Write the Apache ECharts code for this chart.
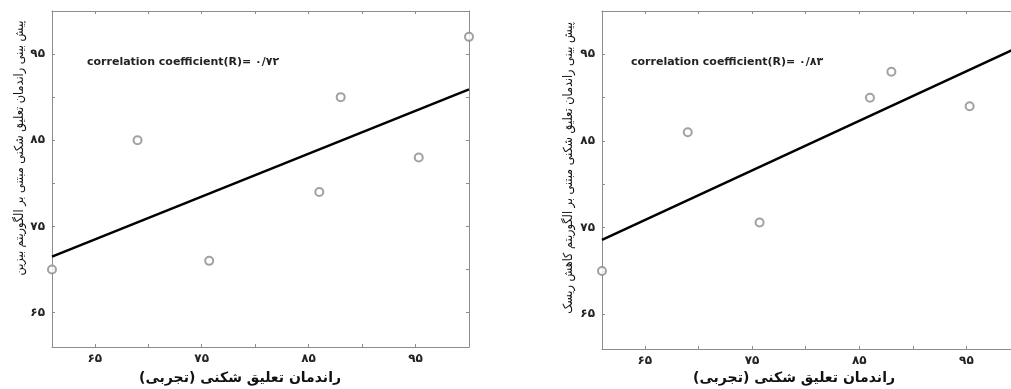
<!DOCTYPE html>
<html>
<head>
<meta charset="utf-8">
<script src="https://cdn.jsdelivr.net/npm/echarts@6/dist/echarts.min.js"></script>
<style>
html,body{margin:0;padding:0;background:#fff;}
#chart{width:1011px;height:389px;}
</style>
</head>
<body>
<div id="chart"></div>
<script>
// ---- data ----
const leftPoints = [[61,70],[69,85],[75.7,71],[86,79],[88,90],[95.3,83],[100,97]];
const leftFit = [[61,71.5],[100,90.9]];
const rightPoints = [[61,70],[69,86],[75.7,75.6],[86,90],[88,93],[95.3,89]];
const rightFit = [[61,73.6],[100,95.9]];
const axisMin = 61;
const axisMax = 100;
const labelTicks = [65,75,85,95];
const minorTicks = [65,70,75,80,85,90,95];
const leftR = 'correlation coefficient(R)= ۰/۷۲';
const rightR = 'correlation coefficient(R)= ۰/۸۳';
const xTitle = 'راندمان تعلیق شکنی (تجربی)';
const leftYTitle = 'پیش بینی راندمان تعلیق شکنی مبتنی بر الگوریتم بیزین';
const rightYTitle = 'پیش بینی راندمان تعلیق شکنی مبتنی بر الگوریتم کاهش ریسک';

const faDigits = '۰۱۲۳۴۵۶۷۸۹';
function toFa(v){ return String(v).replace(/[0-9]/g, d => faDigits[+d]); }

const frameColor = '#8c8c8c';
const faFont = "'DejaVu Sans', sans-serif";

function xAxisDef(gridIndex, pos){
  const main = pos === 'bottom';
  return {
    type:'value', gridIndex, position: pos, min: axisMin, max: axisMax,
    axisLine:{show:true, onZero:false, lineStyle:{color:frameColor, width:1}},
    axisTick:{show:true, inside:true, length:3, customValues:minorTicks, lineStyle:{color:frameColor}},
    axisLabel:{show:main, customValues:labelTicks, formatter:v=>toFa(v), margin:6,
      fontFamily:faFont, fontWeight:'bold', fontSize:12, color:'#222'},
    splitLine:{show:false}
  };
}
function yAxisDef(gridIndex, pos){
  const main = pos === 'left';
  return {
    type:'value', gridIndex, position: pos, min: axisMin, max: axisMax,
    axisLine:{show:true, onZero:false, lineStyle:{color:frameColor, width:1}},
    axisTick:{show:true, inside:true, length:3, customValues:minorTicks, lineStyle:{color:frameColor}},
    axisLabel:{show:main, customValues:labelTicks, formatter:v=>toFa(v), margin:7,
      fontFamily:faFont, fontWeight:'bold', fontSize:12, color:'#222'},
    splitLine:{show:false}
  };
}

const scatterStyle = {color:'#fff', borderColor:'#8a8a8a', borderWidth:2};

const chart = echarts.init(document.getElementById('chart'), null, {renderer:'canvas'});
chart.setOption({
  animation:false,
  backgroundColor:'#fff',
  grid:[
    {left:52, top:11, width:417, height:336, outerBoundsMode:'none', containLabel:false},
    {left:602, top:11, width:418, height:338, outerBoundsMode:'none', containLabel:false}
  ],
  xAxis:[xAxisDef(0,'bottom'), xAxisDef(0,'top'), xAxisDef(1,'bottom'), xAxisDef(1,'top')],
  yAxis:[yAxisDef(0,'left'), yAxisDef(0,'right'), yAxisDef(1,'left'), yAxisDef(1,'right')],
  series:[
    {type:'line', xAxisIndex:0, yAxisIndex:0, data:leftFit, symbol:'none', lineStyle:{color:'#000', width:2.5}, z:3},
    {type:'scatter', xAxisIndex:0, yAxisIndex:0, data:leftPoints, symbol:'circle', symbolSize:8, itemStyle:scatterStyle, clip:false, z:4},
    {type:'line', xAxisIndex:2, yAxisIndex:2, data:rightFit, symbol:'none', lineStyle:{color:'#000', width:2.5}, z:3},
    {type:'scatter', xAxisIndex:2, yAxisIndex:2, data:rightPoints, symbol:'circle', symbolSize:8, itemStyle:scatterStyle, clip:false, z:4}
  ],
  graphic:[
    {type:'text', x:87, y:62, style:{text:leftR, fontFamily:"'DejaVu Sans', Arial, sans-serif", fontWeight:'bold', fontSize:11, fill:'#222', verticalAlign:'middle'}},
    {type:'text', x:631, y:62, style:{text:rightR, fontFamily:"'DejaVu Sans', Arial, sans-serif", fontWeight:'bold', fontSize:11, fill:'#222', verticalAlign:'middle'}},
    {type:'text', x:240, y:378, style:{text:xTitle, fontFamily:faFont, fontWeight:'bold', fontSize:14, fill:'#111', align:'center', verticalAlign:'middle'}},
    {type:'text', x:794, y:378, style:{text:xTitle, fontFamily:faFont, fontWeight:'bold', fontSize:14, fill:'#111', align:'center', verticalAlign:'middle'}},
    {type:'text', x:20, y:148, rotation:Math.PI/2, style:{text:leftYTitle, fontFamily:"'DejaVu Sans Condensed', 'DejaVu Sans', sans-serif", fontSize:12.5, fill:'#111', align:'center', verticalAlign:'middle'}},
    {type:'text', x:569, y:168, rotation:Math.PI/2, style:{text:rightYTitle, fontFamily:"'DejaVu Sans Condensed', 'DejaVu Sans', sans-serif", fontSize:12.5, fill:'#111', align:'center', verticalAlign:'middle'}}
  ]
});
</script>
</body>
</html>
